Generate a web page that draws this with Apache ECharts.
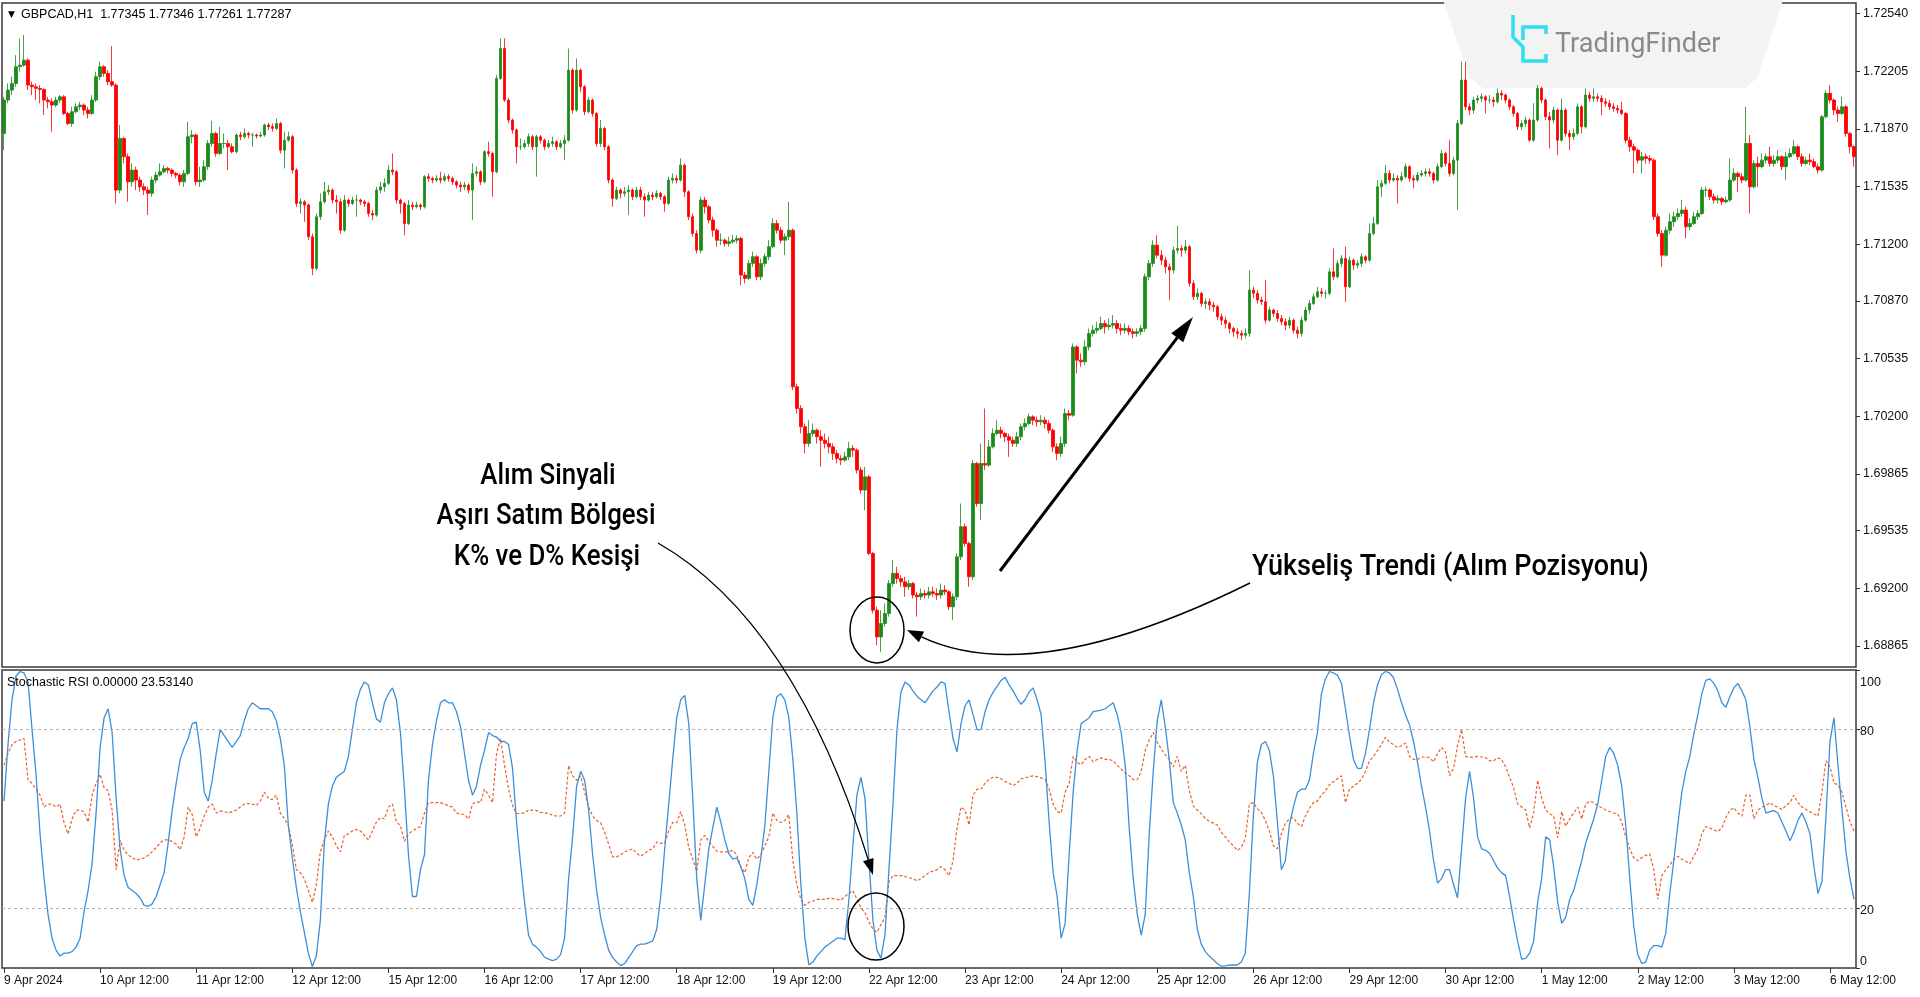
<!DOCTYPE html>
<html>
<head>
<meta charset="utf-8">
<script src="https://cdn.jsdelivr.net/npm/echarts@6.0.0/dist/echarts.min.js"></script>
<style>
html,body{margin:0;padding:0;background:#fff;}
#c{width:1920px;height:997px;}
</style>
</head>
<body>
<div id="c"></div>
<script>
// ---------- DATA ----------
const symbolHeader = 'GBPCAD,H1  1.77345 1.77346 1.77261 1.77287';
const stochHeader = 'Stochastic RSI 0.00000 23.53140';
const priceTicks = [1.68865,1.69200,1.69535,1.69865,1.70200,1.70535,1.70870,1.71200,1.71535,1.71870,1.72205,1.72540];
const priceMin = 1.68743;
const priceMax = 1.72601;
const stochTicks = [0,20,80,100];
const stochLevels = [20,80];
const timeLabels = ['9 Apr 2024','10 Apr 12:00','11 Apr 12:00','12 Apr 12:00','15 Apr 12:00','16 Apr 12:00','17 Apr 12:00','18 Apr 12:00','19 Apr 12:00','22 Apr 12:00','23 Apr 12:00','24 Apr 12:00','25 Apr 12:00','26 Apr 12:00','29 Apr 12:00','30 Apr 12:00','1 May 12:00','2 May 12:00','3 May 12:00','6 May 12:00'];
const barsPerLabel = 24;
const firstOpen = 1.71843;

const closes = [
1.72037,1.72095,1.72134,1.72231,1.72240,1.72269,1.72124,1.72114,1.72105,1.72099,
1.72037,1.72027,1.72008,1.72037,1.72056,1.71959,1.71901,1.71969,1.71998,1.72008,
1.71979,1.71959,1.72037,1.72173,1.72231,1.72192,1.72144,1.72124,1.71514,1.71814,
1.71708,1.71562,1.71630,1.71572,1.71533,1.71514,1.71495,1.71572,1.71601,1.71620,
1.71640,1.71630,1.71611,1.71601,1.71562,1.71611,1.71824,1.71834,1.71562,1.71572,
1.71650,1.71785,1.71843,1.71727,1.71785,1.71785,1.71766,1.71737,1.71834,1.71824,
1.71843,1.71834,1.71834,1.71828,1.71834,1.71892,1.71882,1.71872,1.71901,1.71746,
1.71804,1.71824,1.71630,1.71436,1.71446,1.71427,1.71243,1.71059,1.71359,1.71446,
1.71504,1.71514,1.71456,1.71446,1.71281,1.71456,1.71436,1.71456,1.71456,1.71446,
1.71436,1.71378,1.71369,1.71514,1.71533,1.71553,1.71630,1.71620,1.71456,1.71436,
1.71320,1.71427,1.71417,1.71427,1.71417,1.71592,1.71582,1.71572,1.71582,1.71572,
1.71592,1.71582,1.71562,1.71543,1.71533,1.71543,1.71514,1.71611,1.71620,1.71562,
1.71737,1.71727,1.71620,1.72163,1.72337,1.72037,1.71921,1.71863,1.71766,1.71766,
1.71785,1.71824,1.71766,1.71824,1.71804,1.71766,1.71785,1.71795,1.71766,1.71785,
1.71804,1.72211,1.71979,1.72211,1.72114,1.71969,1.72037,1.71959,1.71785,1.71872,
1.71766,1.71572,1.71465,1.71514,1.71495,1.71504,1.71514,1.71475,1.71514,1.71475,
1.71456,1.71485,1.71475,1.71495,1.71475,1.71436,1.71572,1.71582,1.71572,1.71659,
1.71504,1.71359,1.71262,1.71165,1.71456,1.71417,1.71340,1.71281,1.71223,1.71223,
1.71204,1.71214,1.71223,1.71233,1.71020,1.71001,1.71088,1.71127,1.71010,1.71088,
1.71127,1.71185,1.71320,1.71281,1.71223,1.71243,1.71281,1.70371,1.70245,1.70139,
1.70042,1.70100,1.70119,1.70081,1.70061,1.70042,1.70022,1.69984,1.69955,1.69945,
1.69964,1.70013,1.70003,1.69887,1.69771,1.69848,1.69403,1.69073,1.68918,1.68996,
1.69054,1.69228,1.69287,1.69257,1.69238,1.69209,1.69228,1.69161,1.69151,1.69170,
1.69161,1.69180,1.69170,1.69161,1.69190,1.69180,1.69093,1.69151,1.69383,1.69558,
1.69461,1.69267,1.69926,1.69693,1.69926,1.69916,1.70022,1.70100,1.70119,1.70100,
1.70081,1.70061,1.70042,1.70081,1.70139,1.70158,1.70197,1.70177,1.70168,1.70177,
1.70158,1.70119,1.70022,1.69984,1.70042,1.70216,1.70206,1.70603,1.70526,1.70516,
1.70603,1.70681,1.70700,1.70710,1.70739,1.70720,1.70729,1.70739,1.70710,1.70700,
1.70710,1.70691,1.70681,1.70691,1.70710,1.71010,1.71088,1.71194,1.71136,1.71107,
1.71068,1.71049,1.71165,1.71175,1.71165,1.71185,1.70972,1.70894,1.70914,1.70855,
1.70865,1.70846,1.70836,1.70778,1.70758,1.70739,1.70710,1.70691,1.70681,1.70671,
1.70681,1.70933,1.70914,1.70875,1.70865,1.70758,1.70817,1.70797,1.70768,1.70749,
1.70729,1.70758,1.70700,1.70681,1.70758,1.70817,1.70855,1.70894,1.70923,1.70914,
1.70914,1.71039,1.71010,1.71088,1.71117,1.70952,1.71107,1.71078,1.71088,1.71127,
1.71107,1.71262,1.71320,1.71533,1.71553,1.71611,1.71572,1.71582,1.71572,1.71592,
1.71650,1.71582,1.71572,1.71601,1.71611,1.71620,1.71611,1.71572,1.71650,1.71727,
1.71669,1.71611,1.71688,1.71901,1.72153,1.71998,1.71979,1.72037,1.72047,1.72056,
1.72037,1.72037,1.72027,1.72076,1.72066,1.72037,1.71998,1.71959,1.71882,1.71901,
1.71921,1.71804,1.71921,1.72105,1.72037,1.71940,1.71921,1.71979,1.71804,1.71979,
1.71843,1.71824,1.71843,1.71998,1.71882,1.72066,1.72047,1.72056,1.72047,1.72027,
1.72018,1.71998,1.71989,1.71979,1.71959,1.71804,1.71766,1.71746,1.71688,1.71708,
1.71698,1.71688,1.71359,1.71262,1.71136,1.71281,1.71330,1.71359,1.71378,1.71398,
1.71301,1.71320,1.71359,1.71378,1.71514,1.71514,1.71475,1.71456,1.71465,1.71446,
1.71456,1.71572,1.71611,1.71592,1.71572,1.71785,1.71533,1.71669,1.71650,1.71688,
1.71708,1.71669,1.71688,1.71708,1.71650,1.71708,1.71727,1.71766,1.71708,1.71669,
1.71688,1.71679,1.71650,1.71630,1.71940,1.72076,1.72037,1.71979,1.71959,1.71998,
1.71843,1.71766,1.71708];

const highs = [
1.72056,1.72134,1.72173,1.72298,1.72395,1.72415,1.72279,1.72144,1.72134,1.72124,
1.72105,1.72056,1.72047,1.72056,1.72066,1.72066,1.71969,1.71998,1.72018,1.72027,
1.72018,1.71998,1.72066,1.72202,1.72260,1.72240,1.72211,1.72351,1.72134,1.71892,
1.71824,1.71727,1.71669,1.71650,1.71592,1.71553,1.71533,1.71592,1.71620,1.71669,
1.71659,1.71650,1.71640,1.71620,1.71611,1.71630,1.71911,1.71863,1.71843,1.71650,
1.71688,1.71804,1.71917,1.71853,1.71882,1.71843,1.71804,1.71785,1.71843,1.71853,
1.71872,1.71853,1.71847,1.71843,1.71853,1.71901,1.71905,1.71901,1.71930,1.71911,
1.71853,1.71853,1.71834,1.71640,1.71465,1.71456,1.71436,1.71262,1.71378,1.71495,
1.71562,1.71543,1.71524,1.71485,1.71465,1.71485,1.71465,1.71475,1.71485,1.71465,
1.71456,1.71446,1.71398,1.71533,1.71562,1.71582,1.71659,1.71727,1.71630,1.71465,
1.71446,1.71456,1.71446,1.71446,1.71436,1.71601,1.71611,1.71592,1.71601,1.71620,
1.71611,1.71607,1.71592,1.71572,1.71562,1.71562,1.71553,1.71669,1.71650,1.71630,
1.71746,1.71795,1.71737,1.72182,1.72395,1.72395,1.72047,1.71930,1.71872,1.71814,
1.71804,1.71843,1.71834,1.71834,1.71834,1.71814,1.71804,1.71824,1.71804,1.71804,
1.71834,1.72337,1.72221,1.72279,1.72221,1.72124,1.72056,1.72047,1.71969,1.71921,
1.71882,1.71775,1.71582,1.71533,1.71524,1.71533,1.71543,1.71524,1.71533,1.71533,
1.71495,1.71504,1.71504,1.71514,1.71504,1.71485,1.71592,1.71611,1.71601,1.71698,
1.71669,1.71514,1.71378,1.71281,1.71475,1.71475,1.71427,1.71359,1.71291,1.71262,
1.71233,1.71243,1.71252,1.71252,1.71243,1.71039,1.71107,1.71156,1.71136,1.71117,
1.71146,1.71223,1.71350,1.71340,1.71301,1.71262,1.71446,1.71291,1.70390,1.70265,
1.70158,1.70177,1.70158,1.70129,1.70119,1.70100,1.70081,1.70042,1.70003,1.69974,
1.69993,1.70051,1.70032,1.70013,1.69906,1.69906,1.69858,1.69412,1.69093,1.69073,
1.69112,1.69248,1.69364,1.69325,1.69277,1.69267,1.69248,1.69238,1.69180,1.69199,
1.69190,1.69209,1.69209,1.69199,1.69228,1.69219,1.69190,1.69170,1.69403,1.69693,
1.69577,1.69471,1.69945,1.69935,1.70042,1.70245,1.70061,1.70129,1.70177,1.70139,
1.70110,1.70100,1.70081,1.70110,1.70158,1.70187,1.70216,1.70206,1.70197,1.70206,
1.70197,1.70177,1.70129,1.70042,1.70081,1.70245,1.70235,1.70623,1.70613,1.70565,
1.70642,1.70710,1.70729,1.70749,1.70778,1.70758,1.70768,1.70788,1.70758,1.70739,
1.70739,1.70729,1.70710,1.70710,1.70729,1.71030,1.71107,1.71223,1.71252,1.71165,
1.71127,1.71088,1.71185,1.71307,1.71194,1.71223,1.71194,1.70991,1.70943,1.70923,
1.70885,1.70885,1.70865,1.70846,1.70797,1.70778,1.70749,1.70720,1.70710,1.70700,
1.70710,1.71049,1.70952,1.70933,1.70894,1.70991,1.70836,1.70826,1.70817,1.70788,
1.70768,1.70778,1.70768,1.70720,1.70778,1.70836,1.70875,1.70914,1.70952,1.70943,
1.70933,1.71059,1.71175,1.71107,1.71136,1.71185,1.71127,1.71117,1.71107,1.71146,
1.71136,1.71320,1.71359,1.71572,1.71572,1.71659,1.71630,1.71611,1.71601,1.71620,
1.71669,1.71659,1.71601,1.71620,1.71630,1.71640,1.71640,1.71620,1.71669,1.71746,
1.71737,1.71804,1.71708,1.71921,1.72260,1.72260,1.72018,1.72056,1.72066,1.72076,
1.72066,1.72066,1.72056,1.72105,1.72095,1.72076,1.72047,1.72008,1.71969,1.71921,
1.71940,1.71930,1.72018,1.72124,1.72114,1.72047,1.71969,1.71998,1.71989,1.72047,
1.71989,1.71863,1.71872,1.72018,1.72008,1.72105,1.72085,1.72105,1.72076,1.72066,
1.72047,1.72037,1.72018,1.72008,1.72027,1.71969,1.71824,1.71785,1.71756,1.71737,
1.71727,1.71717,1.71698,1.71378,1.71281,1.71301,1.71378,1.71388,1.71407,1.71456,
1.71417,1.71350,1.71388,1.71398,1.71533,1.71533,1.71524,1.71495,1.71485,1.71475,
1.71475,1.71698,1.71640,1.71620,1.71611,1.71998,1.71834,1.71688,1.71708,1.71727,
1.71727,1.71766,1.71717,1.71746,1.71717,1.71737,1.71756,1.71804,1.71775,1.71727,
1.71708,1.71727,1.71698,1.71669,1.71950,1.72095,1.72124,1.72047,1.71998,1.72056,
1.72008,1.71853,1.71775];

const lows = [
1.71746,1.72018,1.72066,1.72114,1.72202,1.72231,1.72095,1.72066,1.72037,1.72018,
1.71950,1.71989,1.71853,1.71998,1.72018,1.71950,1.71892,1.71882,1.71959,1.71979,
1.71950,1.71930,1.71950,1.72027,1.72153,1.72173,1.72124,1.72114,1.71436,1.71495,
1.71669,1.71446,1.71533,1.71514,1.71504,1.71485,1.71369,1.71475,1.71553,1.71592,
1.71611,1.71611,1.71592,1.71582,1.71543,1.71533,1.71601,1.71785,1.71543,1.71533,
1.71562,1.71630,1.71766,1.71708,1.71717,1.71756,1.71630,1.71727,1.71727,1.71804,
1.71814,1.71814,1.71766,1.71814,1.71820,1.71824,1.71863,1.71853,1.71863,1.71727,
1.71640,1.71795,1.71611,1.71417,1.71378,1.71330,1.71223,1.71020,1.71049,1.71340,
1.71436,1.71485,1.71436,1.71378,1.71262,1.71272,1.71417,1.71427,1.71359,1.71427,
1.71417,1.71359,1.71340,1.71359,1.71495,1.71504,1.71543,1.71601,1.71436,1.71378,
1.71252,1.71311,1.71398,1.71407,1.71398,1.71407,1.71562,1.71553,1.71562,1.71553,
1.71562,1.71562,1.71543,1.71524,1.71504,1.71514,1.71495,1.71340,1.71592,1.71543,
1.71553,1.71708,1.71475,1.71611,1.72153,1.72027,1.71901,1.71843,1.71669,1.71746,
1.71756,1.71766,1.71746,1.71592,1.71785,1.71746,1.71756,1.71766,1.71746,1.71756,
1.71688,1.71795,1.71959,1.71969,1.72085,1.71950,1.71959,1.71940,1.71766,1.71766,
1.71746,1.71553,1.71417,1.71456,1.71465,1.71475,1.71369,1.71456,1.71465,1.71456,
1.71359,1.71446,1.71456,1.71465,1.71456,1.71388,1.71427,1.71553,1.71553,1.71562,
1.71475,1.71340,1.71243,1.71146,1.71146,1.71378,1.71320,1.71243,1.71185,1.71194,
1.71185,1.71185,1.71204,1.71204,1.70962,1.70972,1.70991,1.71068,1.70991,1.70991,
1.71068,1.71107,1.71175,1.71262,1.71204,1.71136,1.71223,1.70352,1.70216,1.70100,
1.69984,1.70022,1.70081,1.70042,1.69906,1.70013,1.69984,1.69945,1.69926,1.69916,
1.69935,1.69945,1.69964,1.69867,1.69751,1.69654,1.69393,1.69054,1.68870,1.68831,
1.68977,1.69035,1.69209,1.69228,1.69209,1.69151,1.69190,1.69141,1.69035,1.69132,
1.69141,1.69141,1.69151,1.69132,1.69141,1.69161,1.69073,1.69015,1.69132,1.69364,
1.69442,1.69209,1.69248,1.69674,1.69596,1.69887,1.69906,1.70013,1.70090,1.70071,
1.70051,1.69964,1.70022,1.70022,1.70061,1.70119,1.70148,1.70148,1.70139,1.70148,
1.70129,1.70100,1.69993,1.69945,1.69964,1.70022,1.70177,1.70197,1.70449,1.70487,
1.70497,1.70584,1.70662,1.70681,1.70700,1.70681,1.70700,1.70710,1.70681,1.70671,
1.70681,1.70671,1.70652,1.70662,1.70671,1.70691,1.70991,1.71068,1.71117,1.71078,
1.71030,1.70875,1.71030,1.71146,1.71127,1.71146,1.70952,1.70875,1.70875,1.70836,
1.70826,1.70817,1.70807,1.70758,1.70729,1.70710,1.70681,1.70662,1.70652,1.70642,
1.70652,1.70662,1.70885,1.70855,1.70846,1.70739,1.70749,1.70778,1.70749,1.70729,
1.70700,1.70710,1.70681,1.70652,1.70662,1.70749,1.70797,1.70846,1.70885,1.70894,
1.70885,1.70904,1.70991,1.71001,1.71068,1.70865,1.70943,1.71049,1.71059,1.71068,
1.71088,1.71097,1.71252,1.71311,1.71475,1.71543,1.71553,1.71562,1.71436,1.71562,
1.71582,1.71562,1.71524,1.71562,1.71592,1.71592,1.71592,1.71553,1.71562,1.71640,
1.71650,1.71592,1.71601,1.71398,1.71892,1.71979,1.71950,1.71959,1.72018,1.72027,
1.71959,1.72018,1.71998,1.72018,1.72037,1.72018,1.71979,1.71940,1.71863,1.71863,
1.71882,1.71795,1.71795,1.71911,1.72018,1.71921,1.71756,1.71901,1.71717,1.71795,
1.71824,1.71746,1.71804,1.71834,1.71843,1.71872,1.72027,1.72027,1.72027,1.71950,
1.71998,1.71979,1.71969,1.71959,1.71950,1.71785,1.71737,1.71611,1.71669,1.71611,
1.71669,1.71669,1.71340,1.71243,1.71068,1.71127,1.71262,1.71301,1.71340,1.71359,
1.71233,1.71281,1.71311,1.71340,1.71369,1.71475,1.71456,1.71436,1.71436,1.71427,
1.71436,1.71446,1.71562,1.71504,1.71553,1.71562,1.71378,1.71524,1.71533,1.71640,
1.71669,1.71650,1.71650,1.71669,1.71630,1.71572,1.71698,1.71717,1.71688,1.71650,
1.71659,1.71659,1.71640,1.71611,1.71620,1.71930,1.72018,1.71950,1.71911,1.71950,
1.71824,1.71727,1.71650];

const stochK = [
56,75,90,98,99.5,99,96,80,65,45,
30,18,10,6,4,5,5,5.5,7,10,
19,26,35,52,74,84,87,79,57,40,
31,27,26,25,23.5,21,20.7,21.5,24,28,
32,42,53,62,70,74,77,82,82.5,73,
59,56,63,72,80,78,76,74,76,78,
83,87,89,88,87,87,87,86,83,77,
68,48,37,27,19,12,5,0.5,4,16,
42,55,61,64,65,66,71,80,89,93.5,
96,95,89,83.6,82.5,89,92,94,90,79,
60,38,24,24,33,38,63,75,83,89,
90,89,89,86,81,72,63,58,61,68,
73,79,78,77.5,76,76,75,67,49,35,
22,11,8,7,5.5,3.6,3,2.5,3,4.5,
10,30,44,61,66,63,53,38,26,17,
11,6,3.5,2,0.8,1.5,3.5,5.5,7.5,8,
8,8.5,9,13,24,40,55,70,84,90,
91.5,82,57,30,16,28,40,47,54,49,
43,38.5,36.5,37,34,30,23,21,28,37,
47.6,66,84,91,92,90,84,70,52,28,
10,1,2,4,5.5,7,8,9,10,10,
9.5,23,41,58,64,57,36,16,6,3.3,
11,33,55,80,92.6,96,95,93,91.2,90,
89,91,93,94.3,96,95.5,86,77,72.5,82,
88,90,85,80,80,86,90,92.5,94.5,96.5,
97.6,95,93,90.5,88.5,90,92.6,94,90,85,
69,49,32,24,10,15,38,59,73,82,
83,84,86,86.3,86.5,87,88,89,85,79,
68,47,30,18,11,18,45,66,83,90,
81,70,55.5,52,48,43,32,24,13,8,
5.5,4,2.8,1.5,0.6,0.7,1,1,1,2,
5,25,51,69,75,76,73,64.5,49,33,
36,48,54,59,60,60,63,72,79,92,
97,99.5,99,98.3,95.5,87,78,70,67,67,
72,80,89,95,98.5,99.5,99,97.5,93.5,89,
85,81.5,76,69,61,54,46,36,28.5,30,
33,33,28,23.5,40,57,66,57,44,40,
39.5,38.5,36,33.5,32,31,24,16,9,3,
3.2,5,9,22,30,44,43,34,22,15,
17,23,26,31,36,42,46,50,55,63,
71,74,72,68,61,48,30,14,4.5,1.5,
2,6,7.5,7.5,7,11.7,25,36,48,59,
66,71,78.5,85,92,96.5,97,95.5,93,89,
87.5,91,94,95.5,93,90,81,70,64,57,
52,52.5,52.8,52,49,46,42.7,45.6,49.5,52,
49,45,34,25,29,51,76,84,68,53,
39,30,23];

const stochD = [
68,72,75,76,76.5,77,63,62,60,58,
54,55,55,54,55,48.8,45,50,53,53,
52.4,49,58,62,65,60.5,59.5,53,33,43,
39.5,38,37,36.2,36.5,37,37.8,39,40.4,42,
43,43,42.4,41.5,39.7,44,54,51.5,44,47,
51,54,55,52,52.7,52.5,52,52.5,53,54,
55,55.2,55,54.5,56,59,57,56.5,58,52,
50.2,47.8,41.5,33,32,30,26,22,28,39,
43,46,44,41,39,44.5,45,46,46.5,46,
44.5,43,46,49,50.5,50,54,55,49,47.8,
42.5,45,46,46.8,47.5,52,55.5,55.5,55.5,55.5,
55,54.5,54,52,51.6,51.6,50,55,55.8,55.5,
60,58,55.5,72,77,68,60,54.5,51.8,52,
52,53,53,52.8,52.2,52,52,51.2,51,51,
52,68,64.5,63,64.5,59,54,51,49.5,48.8,
45.5,41.5,37.3,37.3,38,39,39.5,40,38.5,37.5,
38.5,39.5,40,42.3,41.8,42,46,48.8,48.8,52.5,
48,40.5,36.5,32.5,43,44.5,42.5,40.8,39.2,39,
39,39,39.5,38,34,32,37,38.8,36.5,38,
41,44,52,49.5,48.8,49.5,51.5,36,28,23,
21,22,22.5,23,23,23,23.4,23.3,23,22.8,
24,25,26,23,20.3,18.5,15.5,13,12,14.5,
17,29,31,31,31,30.7,30.2,30,29.2,30,
31,32,32.5,33,34,33,31,36,47,54,
53,48,58,60,60,62,63.3,64,64,63.5,
62.6,62,61.2,62,63.5,63.8,64.2,64.5,64.2,63.8,
63.3,60,55,52.5,52,59,62,71,69,68.2,
70,71,69.2,70,70.5,70,70,69.5,68,66.8,
65.4,64.5,63.2,63.2,66,73,76.5,79,75.7,73.5,
71.5,70,67.5,71,66,68,59.5,54.5,53,51.8,
50.2,49.2,48.6,48,45.5,44,42.3,41,39.5,40.5,
43.5,55,55.5,53.5,52.2,49.5,46,41,40,45,
48.5,50,50.5,48.5,47.5,51,53.5,55.5,56,58,
59.5,61.5,62.5,63.5,64.5,55.5,60,61,62,63.3,
66,69.5,71,73,75,77.4,75.7,75,74,74.6,
75.5,71,70,70,70.8,70.8,70.6,69.2,72,74,
72.5,64.5,67,74.6,80,71,70.7,70.8,71,70.8,
70.6,69.5,69.5,70.5,70,67.5,64,60.5,55,54,
53,47,52,63,57,53,51.8,51,43.7,52.5,
47.6,50,52,54,50,55,56,55.5,54.5,53.8,
53,52.5,52,51.7,49,44,40,37,36,37,
37.8,38.2,33,23,31,33,34.5,36.5,37.5,36.5,
35.8,35,37.5,40,45,47.5,47,46.3,45.8,47,
50.5,53,53.8,52,51,58,58,50,53,54,
54.5,55.5,54.5,54,53.2,54.5,55.5,58,55.5,54,
53.2,52.5,51.7,51,59,69.5,67.5,62,61.5,59,
54,49,46];

// ---------- BUILD ----------
const cats = closes.map((_, i) => String(i));
const candles = closes.map((c, i) => [i === 0 ? firstOpen : closes[i - 1], c, lows[i], highs[i]]);
const isLabelBar = (idx) => idx % barsPerLabel === 0;

const UP = '#1a8c1a', DOWN = '#ff0000';
const FONT_AX = '"Liberation Sans", Arial, sans-serif';
const ANN_FONT = '500 30px Roboto, "Liberation Sans", sans-serif';

function arrowHead(tip, from, len, half) {
  const dx = tip[0] - from[0], dy = tip[1] - from[1];
  const L = Math.sqrt(dx * dx + dy * dy);
  const ux = dx / L, uy = dy / L;
  const bx = tip[0] - ux * len, by = tip[1] - uy * len;
  const nx = -uy * half, ny = ux * half;
  return { pts: [tip, [bx + nx, by + ny], [bx - nx, by - ny]], base: [bx, by] };
}

const straightTip = [1193, 317], straightStart = [1000, 571];
const sh = arrowHead(straightTip, straightStart, 26, 7.5);
const curveB = { s: [1250, 583], c: [1034, 690], e: [907, 630] };
const hb = arrowHead(curveB.e, curveB.c, 16, 6);
const curveC = { s: [658, 543], c: [794, 621], e: [873, 875] };
const hc = arrowHead(curveC.e, curveC.c, 16, 5.5);

const chart = echarts.init(document.getElementById('c'), null, { renderer: 'canvas' });
chart.setOption({
  animation: false,
  backgroundColor: '#ffffff',
  grid: [
    { left: 2, top: 3, width: 1854, height: 664, show: true, borderColor: '#3a3a3a', borderWidth: 1.5, backgroundColor: 'rgba(0,0,0,0)' },
    { left: 2, top: 670, width: 1854, height: 298, show: true, borderColor: '#3a3a3a', borderWidth: 1.5, backgroundColor: 'rgba(0,0,0,0)' }
  ],
  xAxis: [
    { type: 'category', gridIndex: 0, data: cats, boundaryGap: true,
      axisLine: { show: false }, axisTick: { show: false }, axisLabel: { show: false }, splitLine: { show: false } },
    { type: 'category', gridIndex: 1, data: cats, boundaryGap: true,
      axisLine: { show: false },
      axisTick: { show: true, interval: isLabelBar, alignWithLabel: true, length: 5, lineStyle: { color: '#333', width: 1 } },
      axisLabel: { show: true, interval: isLabelBar, formatter: (v, i) => timeLabels[Math.round(i / barsPerLabel)] || '',
        align: 'left', margin: 7, fontSize: 12, fontFamily: FONT_AX, color: '#111' },
      splitLine: { show: false } }
  ],
  yAxis: [
    { type: 'value', gridIndex: 0, position: 'right', min: priceMin, max: priceMax,
      splitLine: { show: false }, axisLine: { show: false },
      axisTick: { show: true, customValues: priceTicks, length: 4, lineStyle: { color: '#333' } },
      axisLabel: { show: true, customValues: priceTicks, formatter: (v) => Number(v).toFixed(5),
        fontSize: 12.5, fontFamily: FONT_AX, color: '#111', margin: 7 } },
    { type: 'value', gridIndex: 1, position: 'right', min: 0, max: 100,
      splitLine: { show: false }, axisLine: { show: false },
      axisTick: { show: true, customValues: stochTicks, length: 4, lineStyle: { color: '#333' } },
      axisLabel: { show: true, customValues: stochTicks, fontSize: 12.5, fontFamily: FONT_AX, color: '#111', margin: 4,
        formatter: (v) => v === 100 ? '{t|100}' : (v === 0 ? '{b|0}' : '{m|' + v + '}'),
        rich: {
          t: { fontSize: 12.5, fontFamily: FONT_AX, color: '#111', padding: [26, 0, 0, 0] },
          b: { fontSize: 12.5, fontFamily: FONT_AX, color: '#111', padding: [0, 0, 12, 0] },
          m: { fontSize: 12.5, fontFamily: FONT_AX, color: '#111', padding: [4, 0, 0, 0] }
        } } }
  ],
  series: [
    { type: 'candlestick', xAxisIndex: 0, yAxisIndex: 0, data: candles, barWidth: 3,
      itemStyle: { color: UP, color0: DOWN, borderColor: UP, borderColor0: DOWN, borderColorDoji: UP, borderWidth: 0.8 },
      silent: true },
    { type: 'line', name: 'K', xAxisIndex: 1, yAxisIndex: 1, data: stochK, showSymbol: false, symbol: 'none',
      lineStyle: { color: '#3b8fd9', width: 1.3 }, silent: true, z: 3 },
    { type: 'line', name: 'D', xAxisIndex: 1, yAxisIndex: 1, data: stochD, showSymbol: false, symbol: 'none',
      lineStyle: { color: '#e8622a', width: 1.2, type: [3, 2] }, silent: true, z: 2,
      markLine: { silent: true, symbol: 'none', label: { show: false },
        lineStyle: { color: '#b0b0b0', type: [3, 3], width: 1 },
        data: stochLevels.map(v => ({ yAxis: v })) } }
  ],
  graphic: [
    // watermark
    { type: 'polygon', z: 1, silent: true,
      shape: { points: [[1443, 0], [1783, 0], [1757, 78], [1745, 88], [1483, 88], [1470, 78]] },
      style: { fill: '#f3f3f3' } },
    { type: 'polyline', z: 1, silent: true, shape: { points: [[1513, 15], [1513, 37], [1523, 47], [1523, 61], [1546, 61], [1546, 54]] },
      style: { stroke: '#2fe0ee', lineWidth: 3.5, fill: null } },
    { type: 'polyline', z: 1, silent: true, shape: { points: [[1523, 40], [1523, 27], [1546, 27], [1546, 34]] },
      style: { stroke: '#2fe0ee', lineWidth: 3.5, fill: null } },
    { type: 'text', z: 1, silent: true, x: 1555, y: 45,
      style: { text: 'TradingFinder', font: '27px Roboto, sans-serif', fill: '#8a8a8a', verticalAlign: 'middle', align: 'left' } },
    // headers
    { type: 'text', z: 10, silent: true, x: 8, y: 15, style: { text: '▼', font: '9px "DejaVu Sans"', fill: '#000', verticalAlign: 'middle' } },
    { type: 'text', z: 10, silent: true, x: 21, y: 15, style: { text: symbolHeader, font: '12.5px ' + FONT_AX, fill: '#000', verticalAlign: 'middle' } },
    { type: 'text', z: 10, silent: true, x: 7, y: 683, style: { text: stochHeader, font: '12.5px ' + FONT_AX, fill: '#000', verticalAlign: 'middle' } },
    // annotation texts
    { type: 'text', z: 20, silent: true, x: 548, y: 476, scaleX: 0.86,
      style: { text: 'Alım Sinyali', font: ANN_FONT, fill: '#000', align: 'center', verticalAlign: 'middle' } },
    { type: 'text', z: 20, silent: true, x: 546, y: 516, scaleX: 0.86,
      style: { text: 'Aşırı Satım Bölgesi', font: ANN_FONT, fill: '#000', align: 'center', verticalAlign: 'middle' } },
    { type: 'text', z: 20, silent: true, x: 547, y: 557, scaleX: 0.86,
      style: { text: 'K% ve D% Kesişi', font: ANN_FONT, fill: '#000', align: 'center', verticalAlign: 'middle' } },
    { type: 'text', z: 20, silent: true, x: 1252, y: 567, scaleX: 0.9,
      style: { text: 'Yükseliş Trendi (Alım Pozisyonu)', font: ANN_FONT, fill: '#000', align: 'left', verticalAlign: 'middle' } },
    // ellipses
    { type: 'ellipse', z: 20, silent: true, shape: { cx: 877, cy: 630, rx: 27, ry: 33 }, style: { fill: null, stroke: '#000', lineWidth: 1.5 } },
    { type: 'ellipse', z: 20, silent: true, shape: { cx: 876, cy: 926.5, rx: 28, ry: 33.5 }, style: { fill: null, stroke: '#000', lineWidth: 1.5 } },
    // straight arrow
    { type: 'line', z: 20, silent: true, shape: { x1: straightStart[0], y1: straightStart[1], x2: sh.base[0], y2: sh.base[1] },
      style: { stroke: '#000', lineWidth: 3 } },
    { type: 'polygon', z: 20, silent: true, shape: { points: sh.pts }, style: { fill: '#000' } },
    // curved arrow B
    { type: 'bezierCurve', z: 20, silent: true,
      shape: { x1: curveB.s[0], y1: curveB.s[1], cpx1: curveB.c[0], cpy1: curveB.c[1], x2: hb.base[0], y2: hb.base[1] },
      style: { stroke: '#000', lineWidth: 1.5, fill: null } },
    { type: 'polygon', z: 20, silent: true, shape: { points: hb.pts }, style: { fill: '#000' } },
    // curved arrow C
    { type: 'bezierCurve', z: 20, silent: true,
      shape: { x1: curveC.s[0], y1: curveC.s[1], cpx1: curveC.c[0], cpy1: curveC.c[1], x2: hc.base[0], y2: hc.base[1] },
      style: { stroke: '#000', lineWidth: 1.3, fill: null } },
    { type: 'polygon', z: 20, silent: true, shape: { points: hc.pts }, style: { fill: '#000' } }
  ]
});
</script>
</body>
</html>
